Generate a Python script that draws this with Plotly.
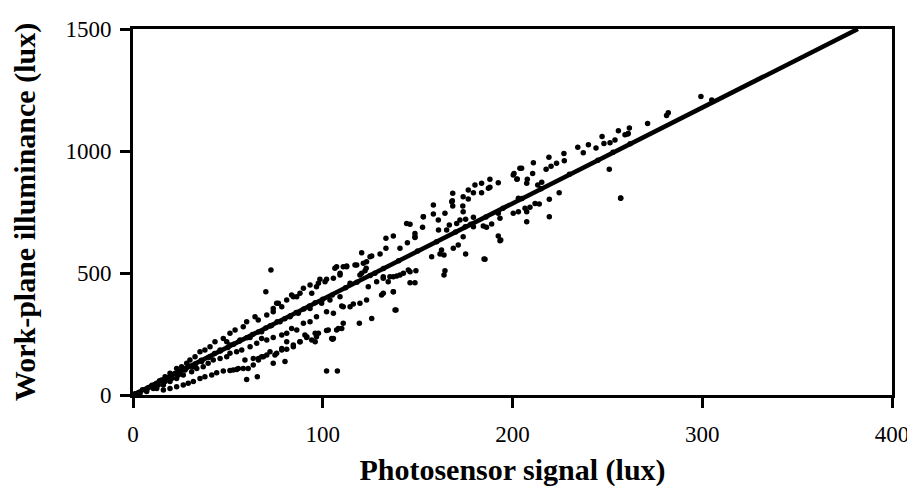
import plotly.graph_objects as go

# measured points, read off the scanned figure (photosensor lux, work-plane lux)
# dense cluster below 100 lux signal, upper band
upper_x = [7.2, 9.8, 12.5, 15.1, 16.9, 19.5, 23.0, 25.6, 28.3, 30.0, 32.7, 35.3, 37.9, 40.6,
           43.2, 49.4, 47.6, 51.1, 53.8, 58.1, 59.9, 64.3, 66.0, 70.5, 73.9, 78.4, 75.7, 81.0,
           83.6, 86.3, 94.2, 89.8, 93.3, 96.7, 98.5, 101.2, 105.6, 109.1, 114.4, 124.0, 128.4,
           107.3, 112.6, 117.0, 121.4, 124.9, 122.3, 119.6, 127.5, 106.4, 110.8, 122.9, 131.9,
           135.4, 139.0, 142.5, 146.0, 131.9, 137.2, 73.9, 76.6, 84.5, 88.0, 97.7, 102.0]
upper_y = [20, 34, 48, 61, 75, 89, 109, 116, 130, 143, 157, 177, 184, 198,
           218, 218, 232, 253, 266, 280, 300, 321, 307, 328, 341, 362, 376, 389,
           410, 403, 417, 437, 451, 444, 474, 464, 478, 492, 458, 444, 464,
           526, 529, 533, 540, 567, 509, 492, 499, 519, 526, 519, 478,
           485, 488, 499, 505, 417, 423, 355, 376, 403, 417, 458, 474]

# dense cluster, band just under the fit
mid_x = [3.7, 7.2, 10.7, 13.3, 16.9, 20.4, 23.9, 27.4, 31.8, 36.2, 40.6, 45.9, 51.1, 56.4,
         61.7, 67.8, 72.2, 77.5, 82.7, 87.1, 93.3, 99.4, 103.8, 109.1]
mid_y = [7, 14, 27, 41, 55, 68, 82, 102, 116, 137, 157, 184, 205, 225,
         236, 259, 283, 300, 321, 335, 355, 376, 389, 403]

# dense cluster, lower band
lower_x = [12.5, 16.0, 19.5, 23.0, 26.5, 30.9, 33.6, 37.0, 39.6, 42.3, 45.9, 49.4, 51.1, 54.6,
           57.3, 61.7, 65.2, 67.8, 70.5, 73.9, 78.4, 81.0, 83.6, 86.3, 89.8, 93.3, 96.7, 102.0,
           105.6, 110.0, 114.4, 119.6, 123.1, 110.8, 107.3, 104.7, 96.0, 90.6, 88.0, 84.5, 81.0,
           78.4, 75.7, 72.2, 68.7, 66.1, 63.4, 59.0]
lower_y = [27, 41, 55, 68, 82, 95, 109, 116, 130, 143, 150, 157, 171, 177,
           184, 198, 212, 232, 225, 236, 246, 253, 273, 266, 294, 300, 321, 341,
           335, 365, 362, 376, 389, 294, 266, 232, 253, 246, 218, 205, 218,
           191, 171, 177, 157, 150, 150, 143]

# dense cluster, lowest band
lowest_x = [16.0, 19.5, 23.0, 26.5, 29.1, 31.8, 35.3, 37.9, 41.5, 44.1, 47.6, 51.1, 54.6, 58.1,
            60.7, 63.4, 66.1, 67.8, 70.5, 74.8, 78.4, 81.0, 84.5, 88.0, 94.2, 91.5, 96.7, 102.9,
            105.6, 108.2, 73.9, 80.1, 55.5, 52.8, 59.9, 65.5]
lowest_y = [20, 27, 34, 41, 48, 55, 68, 75, 82, 91, 98, 100, 105, 109,
            109, 123, 143, 157, 164, 164, 184, 187, 198, 218, 225, 236, 239, 266,
            232, 273, 130, 137, 109, 102, 64, 75]

# readings sitting on the fitted line
near_x = [1, 3, 5, 8, 10, 12, 14, 18, 20, 22, 25, 28, 30, 33, 36, 40, 43, 46, 50, 53, 56, 60,
          63, 66, 70, 73, 76, 80, 83, 86, 90, 93, 96, 100, 105, 112, 118, 125, 132, 140, 150,
          160, 170, 178, 186, 195, 205, 215, 230, 245, 253, 262]
near_y = [5, 10, 22, 30, 40, 45, 58, 70, 78, 88, 98, 110, 118, 128, 142, 155, 170, 180, 195,
          208, 220, 235, 248, 258, 275, 285, 300, 312, 325, 338, 352, 365, 378, 392, 410, 440,
          462, 490, 518, 550, 590, 628, 668, 700, 730, 765, 805, 845, 905, 962, 995, 1030]

# sparser readings above 100 lux signal
spread_x = [133.3, 137.2, 133.3, 140.7, 144.6, 148.6, 130.2, 125.8, 120.5, 123.1, 117.9, 112.6,
            109.1, 120.5, 131.9, 134.5, 137.2, 140.7, 145.1, 149.1, 146.0, 148.6, 131.0, 137.2,
            138.1, 125.8, 119.3, 116.1, 110.8, 110.0, 105.2, 102.0, 97.7, 96.0, 91.6,
            158.3, 153.0, 146.0, 152.6, 148.6, 161.0, 165.3, 166.7, 170.6, 175.3, 179.4,
            192.5, 193.4, 184.6, 189.0, 186.3, 179.4, 174.0, 171.4, 168.8, 163.9, 161.8, 157.4,
            164.4, 163.9, 175.3, 185.5, 144.2, 148.6, 153.0, 158.3, 160.9, 164.4, 168.0, 168.5,
            174.0, 176.7, 180.2, 183.7, 188.1, 192.5, 187.3, 174.0, 172.3, 175.1, 162.6,
            193.4, 192.5, 188.1, 183.7, 179.4, 176.7, 173.8, 168.3, 168.5,
            200.4, 203.9, 202.3, 207.5, 200.8, 202.5, 204.8, 207.8, 210.6, 211.0, 213.3, 215.4,
            217.7, 219.2, 220.3, 223.2, 227.1, 227.3, 224.6, 219.4, 219.4, 214.1, 211.9, 209.2,
            206.6, 207.5, 203.1, 200.4, 193.8, 203.1, 207.5,
            234.4, 237.3, 240.0, 244.0, 247.2, 248.2, 251.4, 254.0, 255.8, 259.3, 261.0, 261.6,
            260.7, 271.2, 251.0, 257.0]
spread_y = [642, 652, 601, 601, 624, 649, 578, 570, 583, 546, 533, 526,
            499, 499, 485, 464, 485, 492, 512, 509, 460, 460, 410, 423,
            348, 314, 294, 373, 362, 273, 228, 264, 253, 218, 239,
            742, 731, 700, 687, 646, 676, 676, 697, 703, 720, 728,
            652, 632, 693, 701, 687, 690, 649, 615, 601, 574, 578, 567,
            509, 492, 578, 556, 703, 662, 731, 779, 717, 745, 792, 827,
            813, 840, 861, 868, 884, 870, 847, 751, 717, 690, 594,
            724, 745, 851, 829, 829, 803, 775, 796, 775,
            902, 929, 884, 868, 908, 885, 929, 884, 908, 952, 861, 872,
            925, 974, 938, 950, 990, 960, 829, 802, 731, 783, 785, 769,
            765, 710, 751, 745, 635, 806, 751,
            1015, 993, 1026, 1012, 1059, 1031, 1034, 1045, 1083, 1067, 1072, 1094,
            1070, 1113, 925, 806]

# isolated readings
outlier_x = [72.7, 70.0, 102.0, 107.7, 138.6, 185.0, 257.0, 281.2, 282.1, 299.3, 305.0]
outlier_y = [512, 423, 98, 98, 348, 557, 807, 1145, 1157, 1223, 1209]

# fitted line end points
fit_x = [0, 382]
fit_y = [0, 1500]

xs = upper_x + mid_x + lower_x + lowest_x + near_x + spread_x + outlier_x
ys = upper_y + mid_y + lower_y + lowest_y + near_y + spread_y + outlier_y

serif = "Liberation Serif, Times New Roman, serif"

fig = go.Figure()
fig.add_trace(go.Scatter(
    x=xs, y=ys, mode="markers",
    marker=dict(color="black", size=5.5),
    showlegend=False, cliponaxis=False,
))
fig.add_trace(go.Scatter(
    x=fit_x, y=fit_y, mode="lines",
    line=dict(color="black", width=4.5),
    showlegend=False,
))

axis_common = dict(
    showline=True, linecolor="black", linewidth=3, mirror=True,
    showgrid=False, zeroline=False, automargin=False,
    ticks="outside", ticklen=10, tickwidth=2.5, tickcolor="black",
    ticklabeloverflow="allow",
    tickfont=dict(family=serif, size=23, color="black"),
)

fig.update_xaxes(
    range=[0, 400], tickvals=[0, 100, 200, 300, 400],
    ticklabelstandoff=6,
    title=dict(text="<b>Photosensor signal (lux)</b>",
               font=dict(family=serif, size=30, color="black"), standoff=14),
    **axis_common,
)
fig.update_yaxes(
    range=[0, 1500], tickvals=[0, 500, 1000, 1500],
    ticklabelstandoff=4,
    title=dict(text="<b>Work-plane illuminance (lux)</b>",
               font=dict(family=serif, size=30, color="black"), standoff=26),
    **axis_common,
)

# the page body adds an 8px margin, so the figure is sized to sit
# inside the window without scrollbars
fig.update_layout(
    width=903, height=484,
    margin=dict(l=125, r=19, t=21, b=97),
    plot_bgcolor="white", paper_bgcolor="white",
)

fig.write_html("out.html")
